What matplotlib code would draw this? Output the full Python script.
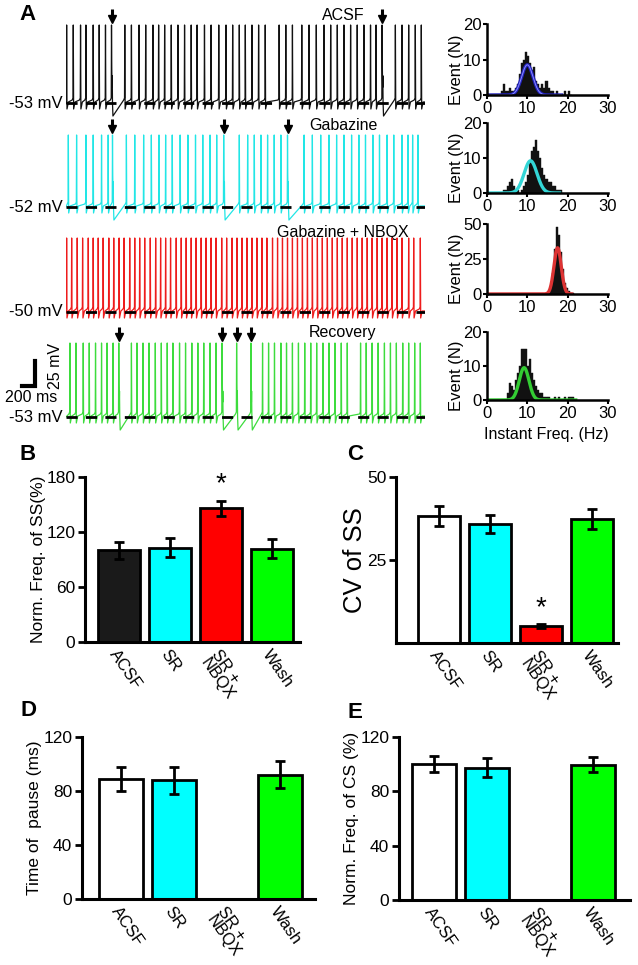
import numpy as np
import matplotlib
matplotlib.use('Agg')
import matplotlib.pyplot as plt

plt.rcParams['font.family'] = ['Liberation Sans', 'DejaVu Sans']

W, H = 638, 965

# ---------------- data ----------------
# spike times (ms), CS = complex spikes (arrows)
acsf_spikes = [7, 81, 162, 222, 303, 370, 440, 507, 655, 729, 814, 888, 969, 1032, 1099, 1173,
               1247, 1321, 1395, 1461, 1543, 1617, 1702, 1783, 1857, 1931, 1998, 2072, 2146,
               2220, 2375, 2449, 2523, 2627, 2708, 2789, 2875, 2949, 3023, 3097, 3171, 3245,
               3319, 3393, 3455, 3522, 3670, 3744, 3818, 3892, 3959]
acsf_cs = [507, 3522]

gbz_spikes = [26, 118, 222, 303, 396, 470, 518, 673, 766, 865, 951, 1036, 1110, 1184, 1272,
              1358, 1443, 1524, 1605, 1679, 1757, 1931, 2024, 2098, 2172, 2246, 2320, 2394,
              2468, 2653, 2745, 2838, 2930, 3015, 3097, 3182, 3263, 3337, 3419, 3493, 3578,
              3652, 3744, 3811, 3862, 3922]
gbz_cs = [518, 1757, 2468]

nbqx_spikes = [7, 63, 125, 185, 248, 303, 359, 414, 477, 532, 592, 647, 710, 766, 821, 877,
               939, 999, 1054, 1110, 1165, 1228, 1284, 1339, 1395, 1450, 1506, 1561, 1617,
               1672, 1735, 1790, 1850, 1905, 1961, 2016, 2072, 2127, 2183, 2238, 2301, 2357,
               2412, 2468, 2523, 2579, 2634, 2690, 2745, 2801, 2856, 2912, 2967, 3023, 3078,
               3134, 3189, 3245, 3300, 3356, 3411, 3467, 3522, 3578, 3633, 3689, 3744, 3818,
               3874, 3948]
nbqx_cs = []

rec_spikes = [44, 111, 192, 259, 329, 396, 458, 525, 588, 729, 791, 858, 925, 995, 1062, 1128,
              1191, 1265, 1332, 1402, 1469, 1535, 1605, 1672, 1739, 1901, 2060, 2190, 2257,
              2323, 2394, 2457, 2523, 2590, 2660, 2727, 2793, 2863, 2930, 2997, 3067, 3134,
              3282, 3345, 3411, 3478, 3548, 3615, 3681, 3752, 3818, 3885, 3948]
rec_cs = [588, 1739, 1901, 2060]

trace_names = ['ACSF', 'Gabazine', 'Gabazine + NBQX', 'Recovery']
trace_mv = ['-53 mV', '-52 mV', '-50 mV', '-53 mV']
trace_amp = [78, 72, 74, 74]

# instantaneous frequency histograms (0.5 Hz bins, left edges) + gaussian fit params
h1_start, h1_counts = 3.0, [0, 1, 3, 1, 1, 2, 1, 1, 2, 3, 6, 9, 10, 12, 11, 9, 7, 8, 4, 3, 2, 3,
                            2, 4, 2, 1, 1, 0, 1, 0, 0, 0, 1, 0, 1, 0]
h2_start, h2_counts = 2.5, [0, 0, 0, 1, 1, 2, 3, 4, 2, 1, 1, 0, 1, 2, 3, 5, 9, 12, 13, 15, 12, 10,
                            7, 5, 4, 3, 3, 2, 2, 1, 1, 1]
h3_start, h3_counts = 15.0, [1, 5, 15, 32, 48, 42, 30, 18, 8, 4, 2, 1, 1]
h4_start, h4_counts = 5.0, [2, 5, 4, 3, 6, 8, 10, 15, 15, 15, 10, 12, 8, 6, 4, 3, 2, 2, 1, 1, 1,
                            0, 0, 1, 0, 1, 0, 0, 1, 0, 1, 1, 1]
fit_amp = [8.5, 9.2, 33, 9.5]
fit_mean = [10.0, 10.8, 17.5, 9.2]
fit_sd = [1.4, 1.6, 0.9, 1.2]
fit_end = [18.5, 18.0, 21.0, 22.0]

# summary bars
conds = ['ACSF', 'SR', 'SR +\nNBQX', 'Wash']
freq_ss = [100, 103, 146, 102]
freq_ss_err = [9, 10, 8, 10]
cv_ss = [38.3, 35.8, 5.1, 37.3]
cv_ss_err = [3, 2.7, 0.5, 3]
pause = [89, 88, 0, 92]
pause_err = [9, 10, 0, 10]
freq_cs = [100, 97.5, 0, 99.6]
freq_cs_err = [6, 7, 0, 5.5]

trace_colors = ['#111111', '#22e6e6', '#ee1c1c', '#3ddc3d']
fit_colors = ['#2222bb', '#33d6d6', '#dd3333', '#33cc33']
bar_colors_b = ['#1a1a1a', '#00ffff', '#ff0000', '#00ff00']
bar_colors_c = ['white', '#00ffff', '#ff0000', '#00ff00']


def rect(l, t, r, b):
    return [l / W, 1 - b / H, (r - l) / W, (b - t) / H]


def build_trace(spikes, cs, amp):
    t, v = [0], [0]
    for s in spikes:
        t += [s - 12, s - 3, s]
        v += [3, 5, amp]
        if s in cs:
            t += [s + 3, s + 6, s + 8, s + 11, s + 16]
            v += [amp * 0.45, amp * 0.2, amp * 0.35, 0, -13]
        else:
            t += [s + 4, s + 20]
            v += [-6, 1]
    t.append(4000)
    v.append(1)
    return t, v


fig = plt.figure(figsize=(W / 100, H / 100), dpi=100)
ov = fig.add_axes([0, 0, 1, 1])
ov.set_xlim(0, W)
ov.set_ylim(H, 0)
ov.axis('off')

# ---------------- panel A traces ----------------
all_spikes = [acsf_spikes, gbz_spikes, nbqx_spikes, rec_spikes]
all_cs = [acsf_cs, gbz_cs, nbqx_cs, rec_cs]
baselines = [103, 207, 312, 417]
label_y = [15, 126, 232, 332]
for i in range(4):
    yb = baselines[i]
    ax = fig.add_axes(rect(66, yb - 100, 425, yb + 15))
    ax.set_xlim(0, 4000)
    ax.set_ylim(-15, 100)
    ax.axis('off')
    t, v = build_trace(all_spikes[i], all_cs[i], trace_amp[i])
    ax.plot(t, v, color=trace_colors[i], lw=0.9)
    ax.plot([0, 4000], [0, 0], color='k', lw=2, ls=(0, (4, 3)))
    for c in all_cs[i]:
        ax.plot([c, c], [trace_amp[i] + 8, trace_amp[i] + 16], color='k', lw=2.2,
                solid_capstyle='butt', clip_on=False)
        ax.plot([c], [trace_amp[i] + 6], marker='v', ms=6, color='k', clip_on=False)
    ov.text(63, yb, trace_mv[i], ha='right', va='center', fontsize=12)
    ov.text(343, label_y[i], trace_names[i], ha='center', va='center', fontsize=11.5)

# scale bar
ov.plot([35, 35, 22], [361, 386, 386], color='k', lw=3, solid_joinstyle='miter')
ov.text(56, 366, '25 mV', rotation=90, ha='center', va='center', fontsize=11.5)
ov.text(31, 397, '200 ms', ha='center', va='center', fontsize=11.5)

ov.text(28, 15, 'A', ha='center', va='center', fontsize=16, fontweight='bold')

# ---------------- histograms ----------------
hist_rects = [(487, 24, 608, 95), (487, 123, 608, 193), (487, 224, 608, 294), (487, 332, 608, 400)]
hist_data = [(h1_start, h1_counts), (h2_start, h2_counts), (h3_start, h3_counts), (h4_start, h4_counts)]
hist_ymax = [20, 20, 50, 20]
for i in range(4):
    l, tp, r, b = hist_rects[i]
    ax = fig.add_axes(rect(l, tp, r, b))
    start, counts = hist_data[i]
    edges = start + 0.5 * np.arange(len(counts))
    ax.bar(edges, counts, width=0.5, align='edge', color='#111111', edgecolor='#111111', lw=0.3)
    xf = np.linspace(0, fit_end[i], 300)
    yf = fit_amp[i] * np.exp(-0.5 * ((xf - fit_mean[i]) / fit_sd[i]) ** 2)
    ax.plot(xf, yf, color=fit_colors[i], lw=2.4)
    if i == 0:
        ax.plot(xf, yf, color='#8c8cff', lw=0.7)
    ax.set_xlim(0, 30)
    ax.set_ylim(0, hist_ymax[i])
    ax.set_xticks([0, 10, 20, 30])
    ax.set_yticks([0, hist_ymax[i] / 2, hist_ymax[i]])
    ax.set_yticklabels(['0', str(int(hist_ymax[i] / 2)), str(hist_ymax[i])])
    for s in ['top', 'right']:
        ax.spines[s].set_visible(False)
    for s in ['left', 'bottom']:
        ax.spines[s].set_linewidth(1.8)
    ax.tick_params(labelsize=12, width=1.5, length=3, pad=1)
    ov.text(457, (tp + b) / 2 + 10, 'Event (N)', rotation=90, ha='center', va='center', fontsize=12)
ov.text(546, 434, 'Instant Freq. (Hz)', ha='center', va='center', fontsize=11.5)


# ---------------- bar panels ----------------
def bar_panel(box, xlim, vals, errs, colors, ylim, yticks, ylabel, ylsize, stars, width, lpad):
    ax = fig.add_axes(rect(*box))
    x = np.arange(len(conds))
    show = [k for k in range(len(vals)) if vals[k] > 0]
    ax.bar(x[show], [vals[k] for k in show], width=width, color=[colors[k] for k in show],
           edgecolor='k', lw=2, zorder=2)
    ax.errorbar(x[show], [vals[k] for k in show], yerr=[errs[k] for k in show], fmt='none',
                ecolor='k', elinewidth=2, capsize=3.5, capthick=2, zorder=3)
    for k in stars:
        ax.text(x[k], vals[k] + errs[k] + ylim[1] * 0.02, '*', ha='center', va='bottom', fontsize=20)
    ax.set_xlim(*xlim)
    ax.set_ylim(*ylim)
    ax.set_yticks(yticks)
    ax.set_xticks(x)
    ax.set_xticklabels(conds, rotation=-55, ha='left', va='top', rotation_mode='anchor',
                       fontsize=12, linespacing=0.85)
    ax.tick_params(axis='x', length=0, pad=4)
    ax.tick_params(axis='y', labelsize=12.5, width=2, length=5, pad=2)
    for s in ['top', 'right']:
        ax.spines[s].set_visible(False)
    for s in ['left', 'bottom']:
        ax.spines[s].set_linewidth(2.2)
    ax.set_ylabel(ylabel, fontsize=ylsize, labelpad=lpad)
    return ax


bar_panel((85, 477, 300, 642), (-0.67, 3.55), freq_ss, freq_ss_err, bar_colors_b, (0, 180),
          [0, 60, 120, 180], 'Norm. Freq. of SS(%)', 12.5, [2], 0.82, 0)
bar_panel((396, 477, 618, 643), (-0.84, 3.51), cv_ss, cv_ss_err, bar_colors_c, (0, 50),
          [25, 50], 'CV of SS', 18.5, [2], 0.82, 0)
bar_panel((82, 737, 315, 899), (-0.74, 3.66), pause, pause_err, bar_colors_c, (0, 120),
          [0, 40, 80, 120], 'Time of  pause (ms)', 12.5, [], 0.83, 1)
bar_panel((399, 737, 630, 900), (-0.66, 3.70), freq_cs, freq_cs_err, bar_colors_c, (0, 120),
          [0, 40, 80, 120], 'Norm. Freq. of CS (%)', 12.5, [], 0.82, 1)

for letter, px, py in [('B', 28, 455), ('C', 355, 455), ('D', 28, 710), ('E', 355, 712)]:
    ov.text(px, py, letter, ha='center', va='center', fontsize=16, fontweight='bold')

fig.savefig('out.png', dpi=100)
